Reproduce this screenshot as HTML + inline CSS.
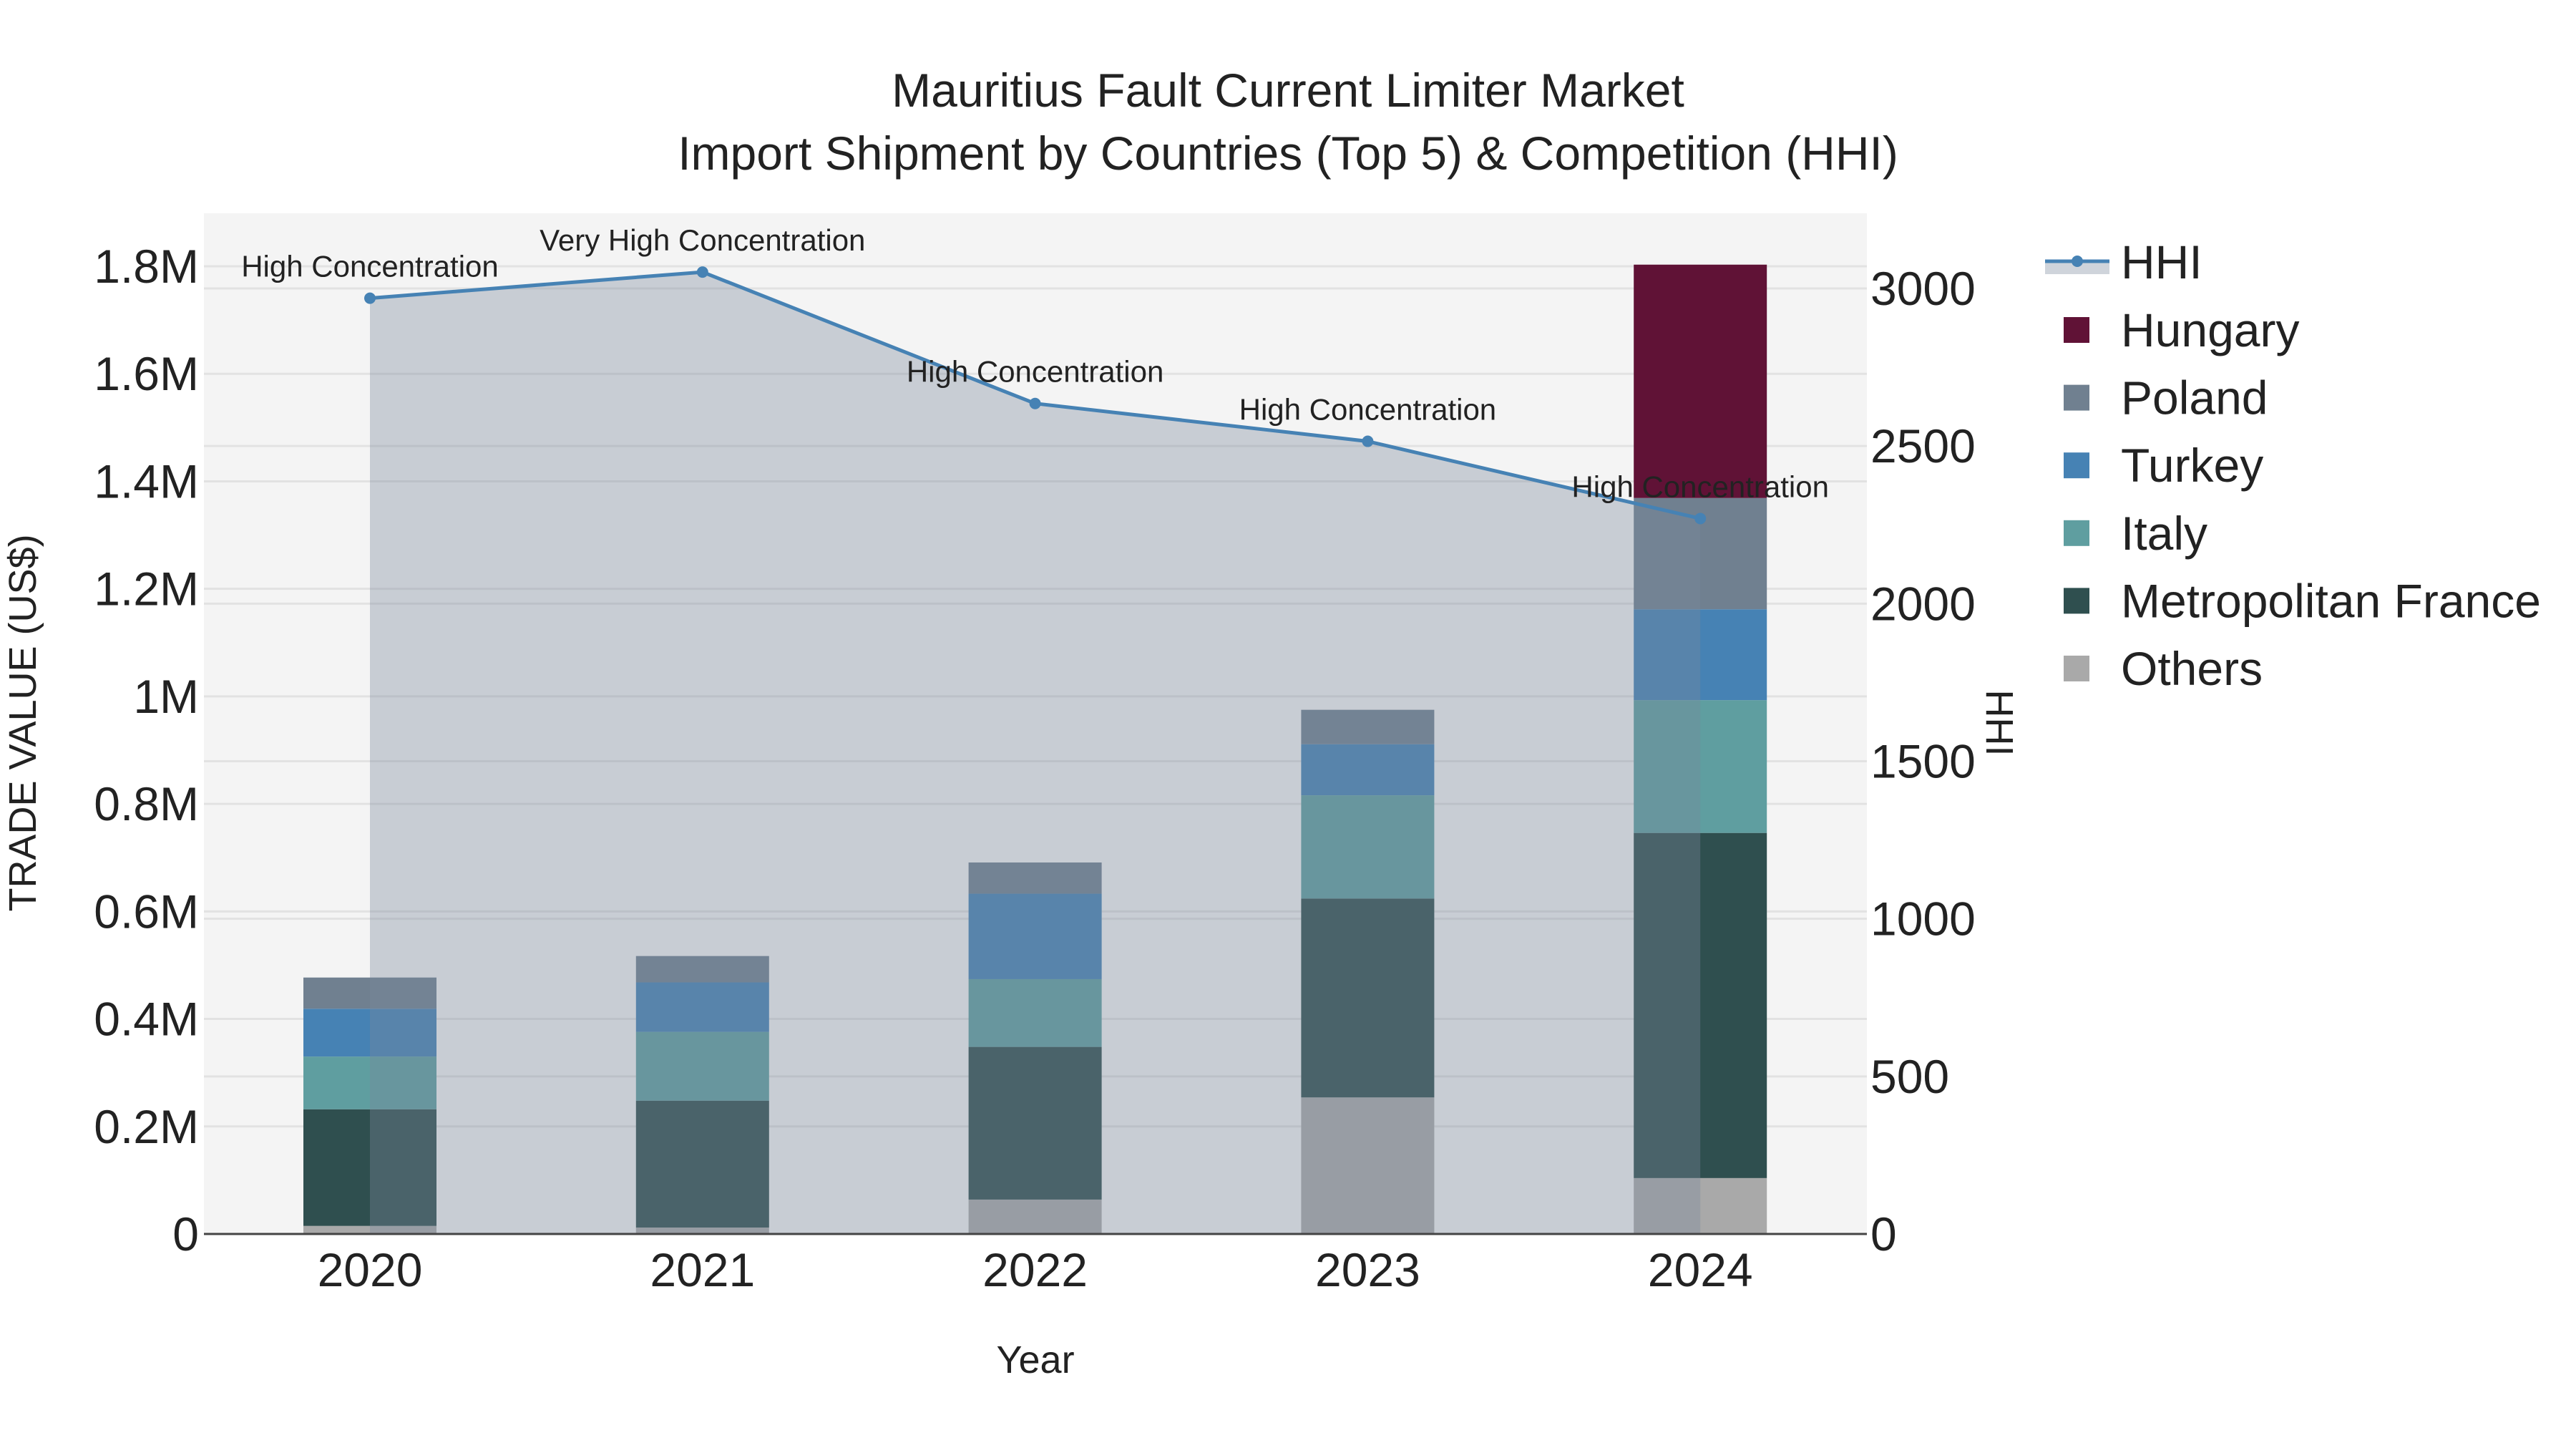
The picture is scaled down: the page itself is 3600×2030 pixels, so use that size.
<!DOCTYPE html>
<html><head><meta charset="utf-8"><style>
html,body{margin:0;padding:0;background:#fff;}
svg text{font-family:"Liberation Sans",sans-serif;fill:#222;}
</style></head><body>
<svg id="chart" width="3600" height="2025" viewBox="0 0 3600 2025" xmlns="http://www.w3.org/2000/svg">
<rect x="0" y="0" width="3600" height="2025" fill="#fff"/>
<rect x="285" y="298" width="2324" height="1426" fill="#f4f4f4"/>
<g id="grid"></g>
<g id="bars"></g>
<g id="hhi"></g>
<g id="axes"></g>
<text x="1800" y="149" text-anchor="middle" font-size="66">Mauritius Fault Current Limiter Market</text>
<text x="1800" y="237" text-anchor="middle" font-size="66">Import Shipment by Countries (Top 5) &amp; Competition (HHI)</text>
<text x="1447" y="1918" text-anchor="middle" font-size="54">Year</text>
<text x="0" y="0" text-anchor="middle" font-size="54" transform="translate(50,1010) rotate(-90)">TRADE VALUE (US$)</text>
<text x="0" y="0" text-anchor="middle" font-size="54" transform="translate(2776,1010) rotate(90)">HHI</text>
<g id="legend">
  <rect x="2858" y="365" width="90" height="18" fill="rgba(122,136,155,0.36)"/>
  <line x1="2858" y1="365" x2="2948" y2="365" stroke="#4682b4" stroke-width="5"/>
  <circle cx="2903" cy="365" r="8" fill="#4682b4"/>
  <text x="2964" y="389" font-size="66">HHI</text>
</g>
<script>
const years = ["2020","2021","2022","2023","2024"];
const others = [0.015,0.012,0.064,0.254,0.104];
const france = [0.217,0.236,0.284,0.370,0.642];
const italy = [0.098,0.128,0.126,0.192,0.247];
const turkey = [0.089,0.092,0.159,0.095,0.169];
const poland = [0.058,0.049,0.058,0.064,0.207];
const hungary = [0,0,0,0,0.434];
const hhi = [2969,3052,2635,2515,2270];
const hhiLabels = ["High Concentration","Very High Concentration","High Concentration","High Concentration","High Concentration"];
const yTicks = [0,0.2,0.4,0.6,0.8,1,1.2,1.4,1.6,1.8];
const yTickLabels = ["0","0.2M","0.4M","0.6M","0.8M","1M","1.2M","1.4M","1.6M","1.8M"];
const y2Ticks = [0,500,1000,1500,2000,2500,3000];

const NS="http://www.w3.org/2000/svg";
const X0=285,X1=2609,Y0=1724,YT=298;
const xPos=i=>517+i*464.8;
const yL=v=>Y0-v*(1352/1.8);
const yR=v=>Y0-v*(1321/3000);
function mk(tag,attrs,parent){const e=document.createElementNS(NS,tag);for(const k in attrs)e.setAttribute(k,attrs[k]);parent.appendChild(e);return e;}
const grid=document.getElementById('grid'),bars=document.getElementById('bars'),hg=document.getElementById('hhi'),ax=document.getElementById('axes');

yTicks.forEach((t,i)=>{
  if(t>0){const l=mk('line',{x1:X0,x2:X1,y1:yL(t),y2:yL(t),stroke:'#e2e2e2','stroke-width':3},grid);
  
  }
  const tx=mk('text',{x:278,y:yL(t)+23,'text-anchor':'end','font-size':66},ax);tx.textContent=yTickLabels[i];
  
  
});
y2Ticks.forEach(t=>{
  if(t>0){const l=mk('line',{x1:X0,x2:X1,y1:yR(t),y2:yR(t),stroke:'#e2e2e2','stroke-width':3},grid);
  
  }
  const tx=mk('text',{x:2614,y:yR(t)+23,'font-size':66},ax);tx.textContent=String(t);
  
  
});
years.forEach((y,i)=>{
  const tx=mk('text',{x:xPos(i),y:1797,'text-anchor':'middle','font-size':66},ax);tx.textContent=y;
  
  
});

const series=[["others",others,"#a9a9a9"],["metropolitan-france",france,"#2f4f4f"],["italy",italy,"#5f9ea0"],["turkey",turkey,"#4682b4"],["poland",poland,"#708090"],["hungary",hungary,"#601236"]];
const BW=186;
years.forEach((y,i)=>{
  let acc=0;
  series.forEach(([n,arr,c])=>{
    const v=arr[i]; if(v<=0) return;
    const r=mk('rect',{x:xPos(i)-BW/2,y:yL(acc+v),width:BW,height:yL(acc)-yL(acc+v),fill:c},bars);
    
    
    acc+=v;
  });
});

let pts=hhi.map((v,i)=>[xPos(i),yR(v)]);
let d='M'+xPos(0)+','+Y0+' '+pts.map(p=>'L'+p[0]+','+p[1]).join(' ')+' L'+xPos(hhi.length-1)+','+Y0+' Z';
const area=mk('path',{d:d,fill:'rgba(122,136,155,0.36)'},hg);


const line=mk('polyline',{points:pts.map(p=>p.join(',')).join(' '),fill:'none',stroke:'#4682b4','stroke-width':5},hg);


pts.forEach((p,i)=>{
  const c=mk('circle',{cx:p[0],cy:p[1],r:8,fill:'#4682b4'},hg);
  
  
  const t=mk('text',{x:p[0],y:p[1]-30,'text-anchor':'middle','font-size':42},hg);t.textContent=hhiLabels[i];
  
  
});
const zl=mk('line',{x1:X0,x2:X1,y1:Y0,y2:Y0,stroke:'#444','stroke-width':3},ax);



const lg=document.getElementById('legend');
const legendItems=[["hungary","Hungary","#601236"],["poland","Poland","#708090"],["turkey","Turkey","#4682b4"],["italy","Italy","#5f9ea0"],["metropolitan-france","Metropolitan France","#2f4f4f"],["others","Others","#a9a9a9"]];
legendItems.forEach(([n,label,c],i)=>{
  const cy=461+i*94.6;
  const s=mk('rect',{x:2884,y:cy-18,width:36,height:36,fill:c},lg);
  
  
  const t=mk('text',{x:2964,y:cy+23,'font-size':66},lg);t.textContent=label;
  
  
});
</script>
</svg>
</body></html>
